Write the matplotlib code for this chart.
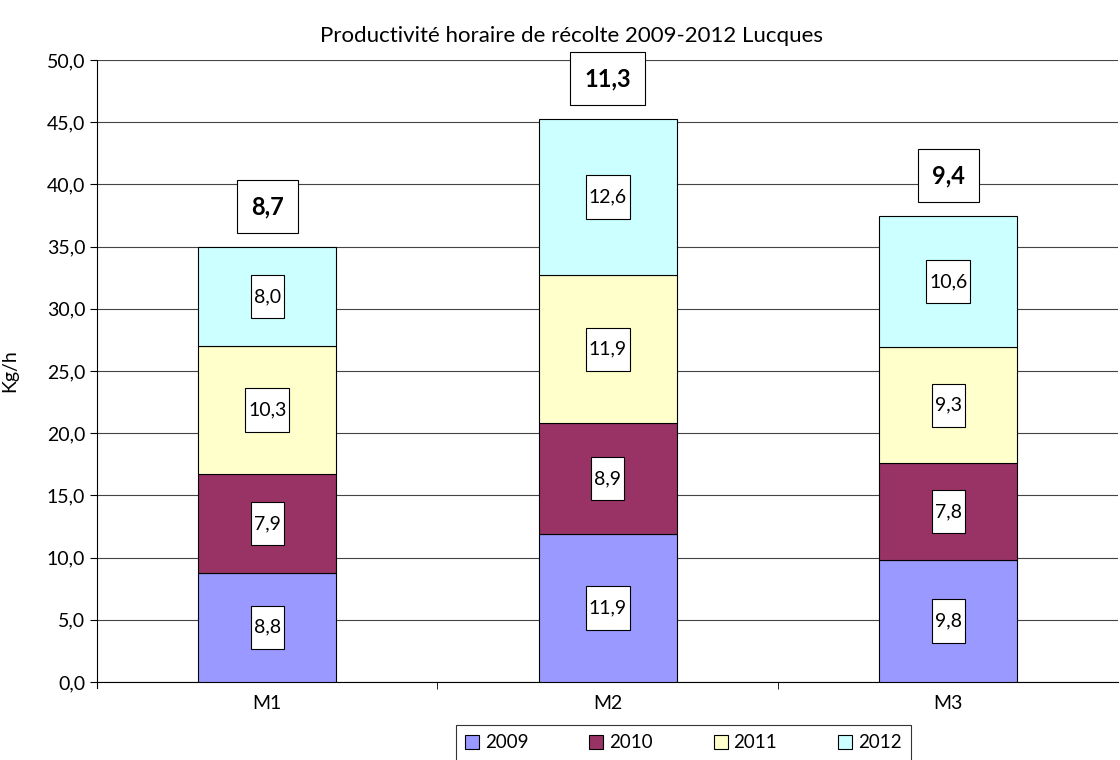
import matplotlib.pyplot as plt
from matplotlib.path import Path
import numpy as np

plt.rcParams['font.family'] = ['Lato', 'DejaVu Sans']

machines = ["M1", "M2", "M3"]
years = ["2009", "2010", "2011", "2012"]
v2009 = [8.8, 11.9, 9.8]
v2010 = [7.9, 8.9, 7.8]
v2011 = [10.3, 11.9, 9.3]
v2012 = [8.0, 12.6, 10.6]
moyennes = [8.7, 11.3, 9.4]
colors = ["#9999FF", "#993366", "#FFFFCC", "#CCFFFF"]


def boite(px, py):
    # rectangle with separate horizontal / vertical padding
    def style(x0, y0, width, height, mutation_size):
        dx = px * mutation_size
        dy = py * mutation_size
        x0, y0 = x0 - dx, y0 - dy
        x1, y1 = x0 + width + 2 * dx, y0 + height + 2 * dy
        return Path([(x0, y0), (x1, y0), (x1, y1), (x0, y1), (x0, y0)], closed=True)
    return style


def fmt(v):
    return f"{v:.1f}".replace(".", ",")


fig = plt.figure(figsize=(11.2, 7.6), dpi=100)
ax = fig.add_axes([0.0866, 0.1026, 0.912, 0.8184])

x = np.arange(len(machines))
bottom = np.zeros(len(machines))
for yr, vals, c in zip(years, [v2009, v2010, v2011, v2012], colors):
    ax.bar(x, vals, 0.405, bottom=bottom, color=c, edgecolor="black",
           linewidth=0.8, label=yr, zorder=3)
    for xi, b, v in zip(x, bottom, vals):
        ax.text(xi, b + v / 2, fmt(v), ha="center", va="center",
                fontsize=14, zorder=4,
                bbox=dict(boxstyle=boite(0.15, 0.68), fc="white", ec="black", lw=0.8))
    bottom += np.array(vals)

for xi, tot, m in zip(x, bottom, moyennes):
    ax.text(xi, tot + 3.2, fmt(m), ha="center", va="center",
            fontsize=17, fontweight="bold", zorder=4,
            bbox=dict(boxstyle=boite(0.6, 0.64), fc="white", ec="black", lw=0.8))

ax.set_xlim(-0.5, 2.5)
ax.set_ylim(0, 50)
ticks = np.arange(0, 50.1, 5)
ax.set_yticks(ticks)
ax.set_yticklabels([fmt(t) for t in ticks])
ax.set_xticks(x)
ax.set_xticklabels(machines)
ax.set_xticks([0.5, 1.5], minor=True)
ax.tick_params(axis="x", which="major", length=0, pad=9, labelsize=14)
ax.tick_params(axis="x", which="minor", length=5, direction="out")
ax.tick_params(axis="y", length=5, direction="out", labelsize=14)
ax.yaxis.grid(True, color="#444444", linewidth=0.8, zorder=0)
for s in ["top", "right"]:
    ax.spines[s].set_visible(False)
ax.spines["left"].set_bounds(-0.5, 50)
ax.set_ylabel("Kg/h", fontsize=14)
ax.yaxis.set_label_coords(-0.077, 0.5)
ax.set_title("Productivité horaire de récolte 2009-2012 Lucques", fontsize=16, pad=13, x=0.465)

leg = ax.legend(loc="upper center", bbox_to_anchor=(0.574, -0.054), ncol=4, fontsize=13.5,
                frameon=True, fancybox=False, handlelength=0.75, handleheight=0.75,
                columnspacing=3.25, handletextpad=0.3, borderpad=0.5)
leg.get_frame().set_edgecolor("black")
leg.get_frame().set_linewidth(0.8)

fig.savefig("out.png", dpi=100)
